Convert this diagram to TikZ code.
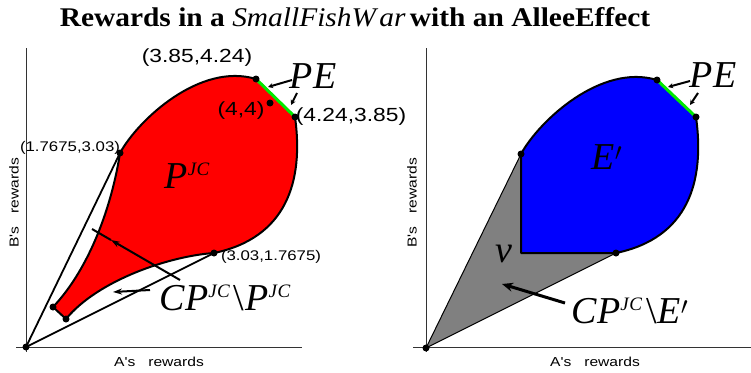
\documentclass[tikz,border=0pt]{standalone}
\usepackage{fontspec}
\setmainfont{Liberation Serif}
\newfontfamily\hel{Liberation Sans}
\usetikzlibrary{arrows.meta}
\definecolor{redfill}{RGB}{255,0,0}
\definecolor{bluefill}{RGB}{0,0,255}
\definecolor{greyfill}{RGB}{128,128,128}
\definecolor{pegreen}{RGB}{0,235,0}
\newcommand\jcsup{\raisebox{13pt}{\fontsize{19}{19}\selectfont\itshape J\kern0.5pt C}}
\newcommand\wide[1]{\scalebox{1.2}[1]{#1}}
\newcommand\setminussym{\kern4pt{\upshape\textbackslash}\kern1pt}
\begin{document}
\begin{tikzpicture}[x=1pt,y=-1pt,
  dot/.style={circle,fill=black,inner sep=0pt,minimum size=7pt},
  axis/.style={line width=0.9pt,black!80},
  outline/.style={line width=2pt,black,line join=round},
  peline/.style={line width=3pt,pegreen},
  ray/.style={line width=1.8pt},
  thinray/.style={line width=1pt},
  coordlab/.style={font=\hel\fontsize{19}{19}\selectfont,inner sep=0pt},
  smalllab/.style={font=\hel\fontsize{14}{14}\selectfont,inner sep=0pt},
  axlab/.style={font=\hel\fontsize{13}{13}\selectfont,inner sep=0pt},
  biglab/.style={font=\fontsize{38}{38}\selectfont\itshape,inner sep=0pt},
  pointer/.style={line width=2pt,-{Stealth[length=9pt,width=6pt]}},
  bigpointer/.style={line width=3pt,-{Stealth[length=11pt,width=9pt]}},
  pepointer/.style={line width=2pt,-{Stealth[length=5pt,width=5pt]}},
]
\useasboundingbox (0,0) rectangle (751,372);

% title
\node[inner sep=0pt,font=\fontsize{27}{27}\selectfont\bfseries] (title) at (355,17)
  {\scalebox{1.09}[1]{Rewards in a {\mdseries\itshape SmallFishW\kern3pt ar}\kern4pt with an AlleeEffect}};

% ---------------- left panel ----------------
\coordinate (lO) at (26,347);
\coordinate (lA) at (120,153);
\coordinate (lB) at (256,79);
\coordinate (lC) at (295,117);
\coordinate (lD) at (214,253);
\coordinate (lE) at (66,319);
\coordinate (lF) at (53,307);
\coordinate (lM) at (270,103);

\fill[redfill] (lA) .. controls (138,120) and (200,62) .. (lB) -- (lC)
  .. controls (304,182) and (286,238) .. (lD)
  .. controls (170,256) and (98,280) .. (lE) -- (lF)
  .. controls (90,268) and (112,205) .. (lA) -- cycle;
\draw[outline] (lA) .. controls (138,120) and (200,62) .. (lB) -- (lC)
  .. controls (304,182) and (286,238) .. (lD)
  .. controls (170,256) and (98,280) .. (lE) -- (lF)
  .. controls (90,268) and (112,205) .. (lA) -- cycle;
\draw[peline] (lB) -- (lC);

% axes
\coordinate (lYt) at (26,48);
\coordinate (lYb) at (26,352);
\coordinate (lXl) at (16,347);
\coordinate (lXr) at (302,347);
\draw[axis] (lYt) -- (lYb);
\draw[axis] (lXl) -- (lXr);

\draw[ray] (lO) -- (lA);
\draw[ray] (lO) -- (lD);

\node[dot] (ldO) at (lO) {};
\node[dot] (ldA) at (lA) {};
\node[dot] (ldB) at (lB) {};
\node[dot] (ldC) at (lC) {};
\node[dot] (ldD) at (lD) {};
\node[dot] (ldE) at (lE) {};
\node[dot] (ldF) at (lF) {};
\node[dot] (ldM) at (lM) {};

\node[coordlab] (l385) at (197,58) {\wide{(3.85,4.24)}};
\node[coordlab] (l44) at (241,111) {\wide{(4,4)}};
\node[coordlab] (l424) at (351,117) {\wide{(4.24,3.85)}};
\node[smalllab] (l1767) at (70,148) {\wide{(1.7675,3.03)}};
\node[smalllab] (l303) at (271,257) {\wide{(3.03,1.7675)}};

\node[biglab] (lPE) at (313,76) {PE};
\node[biglab] (lPJC) at (187,176) {P\jcsup};
\node[biglab] (lCP) at (225,298) {CP\jcsup\setminussym P\jcsup};

% pointers left
\coordinate (lpe1s) at (292,80);  \coordinate (lpe1e) at (268,87);
\coordinate (lpe2s) at (297,93);  \coordinate (lpe2e) at (291,105);
\draw[pepointer] (lpe1s) -- (lpe1e);
\draw[pepointer] (lpe2s) -- (lpe2e);
\coordinate (lp1s) at (180,280); \coordinate (lp1m) at (111,240); \coordinate (lp1e) at (92,229);
\draw[pointer] (lp1s) -- (lp1m);
\draw[line width=2pt] (lp1m) -- (lp1e);
\coordinate (lp2s) at (150,290); \coordinate (lp2e) at (113,292);
\draw[pointer] (lp2s) -- (lp2e);

\node[axlab,rotate=90] (lylab) at (14,203) {\wide{B's\ \ \ rewards}};
\node[axlab] (lxlab) at (159,362) {\wide{A's\ \ \ rewards}};

% ---------------- right panel ----------------
\coordinate (rO) at (426,348);
\coordinate (rA) at (521,154);
\coordinate (rB) at (657,80);
\coordinate (rC) at (696,117);
\coordinate (rD) at (616,253);
\coordinate (rV) at (521,253);

\fill[greyfill] (rO) -- (rA) -- (rD) -- cycle;
\draw[thinray] (rO) -- (rA);
\draw[thinray] (rO) -- (rD);

\fill[bluefill] (rA) .. controls (539,121) and (601,63) .. (rB) -- (rC)
  .. controls (705,182) and (688,238) .. (rD) -- (rV) -- cycle;
\draw[outline] (rA) .. controls (539,121) and (601,63) .. (rB) -- (rC)
  .. controls (705,182) and (688,238) .. (rD) -- (rV) -- cycle;
\draw[peline] (rB) -- (rC);

\coordinate (rYt) at (426,48);
\coordinate (rYb) at (426,352);
\coordinate (rXl) at (413,347);
\coordinate (rXr) at (751,347);
\draw[axis] (rYt) -- (rYb);
\draw[axis] (rXl) -- (rXr);

\node[dot] (rdO) at (rO) {};
\node[dot] (rdA) at (rA) {};
\node[dot] (rdB) at (rB) {};
\node[dot] (rdC) at (rC) {};
\node[dot] (rdD) at (rD) {};

\node[biglab] (rPE) at (713,75) {PE};
\node[biglab] (rE) at (607,157) {E$'$};
\node[biglab] (rv) at (504,254) {v};
\node[biglab] (rCP) at (630,311) {CP\jcsup\setminussym E$'$};

\coordinate (rpe1s) at (690,81);  \coordinate (rpe1e) at (668,87);
\coordinate (rpe2s) at (698,93);  \coordinate (rpe2e) at (690,105);
\draw[pepointer] (rpe1s) -- (rpe1e);
\draw[pepointer] (rpe2s) -- (rpe2e);
\coordinate (rps) at (565,303); \coordinate (rpe) at (502,284);
\draw[bigpointer] (rps) -- (rpe);

\node[axlab,rotate=90] (rylab) at (412,203) {\wide{B's\ \ \ rewards}};
\node[axlab] (rxlab) at (595,362) {\wide{A's\ \ \ rewards}};
\end{tikzpicture}
\end{document}
